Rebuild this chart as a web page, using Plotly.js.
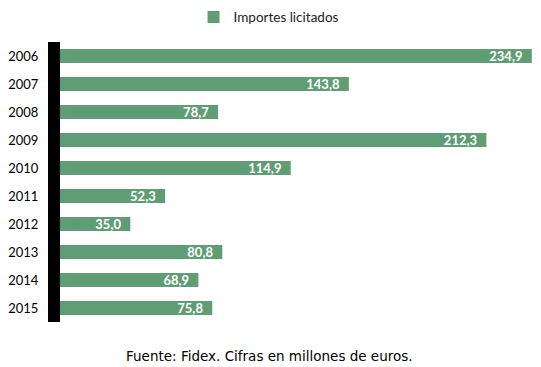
<!DOCTYPE html>
<html>
<head>
<meta charset="utf-8">
<script src="https://cdn.plot.ly/plotly-3.0.1.min.js"></script>
<style>html,body{margin:0;padding:0;background:#fff}#chart{width:541px;height:367px}</style>
</head>
<body>
<div id="chart"></div>
<script>
const years = ['2006','2007','2008','2009','2010','2011','2012','2013','2014','2015'];
const importes = [234.9, 143.8, 78.7, 212.3, 114.9, 52.3, 35.0, 80.8, 68.9, 75.8];
const seriesName = 'Importes licitados';
const caption = 'Fuente: Fidex. Cifras en millones de euros.';

const trace = {
  type: 'bar',
  orientation: 'h',
  name: seriesName,
  y: years,
  x: importes,
  marker: {color: '#609d74'},
  texttemplate: '%{x:.1f}\u00a0\u00a0',
  textposition: 'inside',
  insidetextanchor: 'end',
  constraintext: 'none',
  textangle: 0,
  textfont: {family: 'Lato, sans-serif', size: 13, color: '#ffffff', weight: 'bold'},
  hoverinfo: 'skip',
  showlegend: true
};

const layout = {
  width: 541, height: 367,
  margin: {l: 60, r: 7, t: 42, b: 45},
  separators: ',.',
  paper_bgcolor: '#fff', plot_bgcolor: '#fff',
  bargap: 0.5,
  font: {family: 'Lato, sans-serif', size: 14, color: '#000'},
  xaxis: {range: [0, 236], visible: false, fixedrange: true},
  yaxis: {
    type: 'category', autorange: 'reversed',
    showline: true, linecolor: '#000', linewidth: 12,
    showgrid: false, zeroline: false, ticks: '',
    ticklabelstandoff: 7,
    tickfont: {family: 'Lato, sans-serif', size: 13, color: '#000'}
  },
  showlegend: true,
  legend: {orientation: 'h', x: 0.441, xanchor: 'center', y: 0.995, yanchor: 'top', yref: 'container',
           itemwidth: 30,
           font: {family: 'Lato, sans-serif', size: 13.5, color: '#222'}},
  annotations: [{
    text: caption, xref: 'paper', yref: 'paper', x: 0.443, y: -0.085, xanchor: 'center', yanchor: 'top',
    showarrow: false, font: {family: 'DejaVu Sans, Verdana, sans-serif', size: 13.5, color: '#000'}
  }]
};

Plotly.newPlot('chart', [trace], layout, {displayModeBar: false, staticPlot: true});
</script>
</body>
</html>
